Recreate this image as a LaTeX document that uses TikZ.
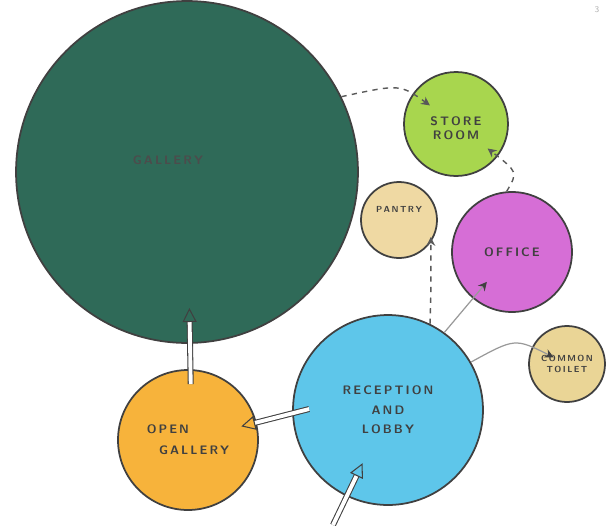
\documentclass[tikz,border=0pt]{standalone}
\usepackage{tikz}
\usetikzlibrary{arrows.meta,positioning}
\definecolor{gallerygreen}{HTML}{2F6A58}
\definecolor{storegreen}{HTML}{A8D64E}
\definecolor{pantrybeige}{HTML}{EFD9A3}
\definecolor{officepink}{HTML}{D66ED6}
\definecolor{toiletbeige}{HTML}{EAD596}
\definecolor{lobbyblue}{HTML}{5EC6EA}
\definecolor{openorange}{HTML}{F7B33B}

\begin{document}
\begin{tikzpicture}[x=0.02cm, y=-0.02cm,
  room/.style={circle, draw=black!75, line width=1pt, inner sep=0pt, align=center, font=\sffamily\bfseries\scriptsize, text=black!75},
  flow/.style={dashed, draw=black!65, line width=0.8pt, -{Stealth[length=5pt,width=5pt]}},
  link/.style={draw=black!40, line width=0.7pt, -{Stealth[length=5pt,width=5pt,color=black!75]}},
  pass/.style={draw=black!75, double=white, double distance=2.2pt, line width=0.6pt, -{Triangle[open,length=8pt,width=8pt]}}]
\useasboundingbox (0,0) rectangle (606,525);

% rooms
\node [room, fill=gallerygreen, minimum size=6.84cm,
  label={[font=\sffamily\bfseries\scriptsize, text=black!70, xshift=-0.38cm, yshift=0.24cm]center:G\,A\,L\,L\,E\,R\,Y}] (gallery) at (187,172) {};
\node [room, fill=storegreen, minimum size=2.08cm] (store) at (456,124) {\\[2pt]S\,T\,O\,R\,E\\R\,O\,O\,M};
\node [room, fill=pantrybeige, minimum size=1.52cm, font=\sffamily\bfseries\tiny] (pantry) at (399,220) {P\,A\,N\,T\,R\,Y\\[6pt]};
\node [room, fill=officepink, minimum size=2.4cm] (office) at (512,252) {O\,F\,F\,I\,C\,E};
\node [room, fill=toiletbeige, minimum size=1.52cm, font=\sffamily\bfseries\tiny] (toilet) at (567,364) {C\,O\,M\,M\,O\,N\\T\,O\,I\,L\,E\,T};
\node [room, fill=lobbyblue, minimum size=3.8cm] (lobby) at (388,410) {R\,E\,C\,E\,P\,T\,I\,O\,N\\[3pt]A\,N\,D\\[3pt]L\,O\,B\,B\,Y};
\node [room, fill=openorange, minimum size=2.8cm, align=left] (opengal) at (188,440) {O\,P\,E\,N\\[4pt]\quad G\,A\,L\,L\,E\,R\,Y};
\node [text=black!30, font=\sffamily\tiny] (pageno) at (597,10) {3};

% circulation
\draw [flow, shorten >=0.64cm] (gallery.26) .. controls (400,84) .. (store.center);
\draw [flow, shorten >=0.8cm] (office.95) .. controls (518,172) .. (store.center);
\draw [flow, shorten >=-3pt] (lobby.64) .. controls (431,290) .. (pantry.-35);
\draw [link, shorten >=0.78cm] (lobby.54) -- (office.center);
\draw [link, shorten >=0.3cm] (lobby.30) .. controls (515,338) .. (toilet.center);

\coordinate (entry) at (333,525);
\draw [pass, shorten >=1.18cm] (entry) -- (lobby.center);
\draw [pass, shorten <=-0.35cm, shorten >=1.1cm] (lobby.182) -- (opengal.center);
\draw [pass, shorten <=-0.3cm, shorten >=2.72cm] (opengal.88) -- (gallery.center);

\end{tikzpicture}
\end{document}
